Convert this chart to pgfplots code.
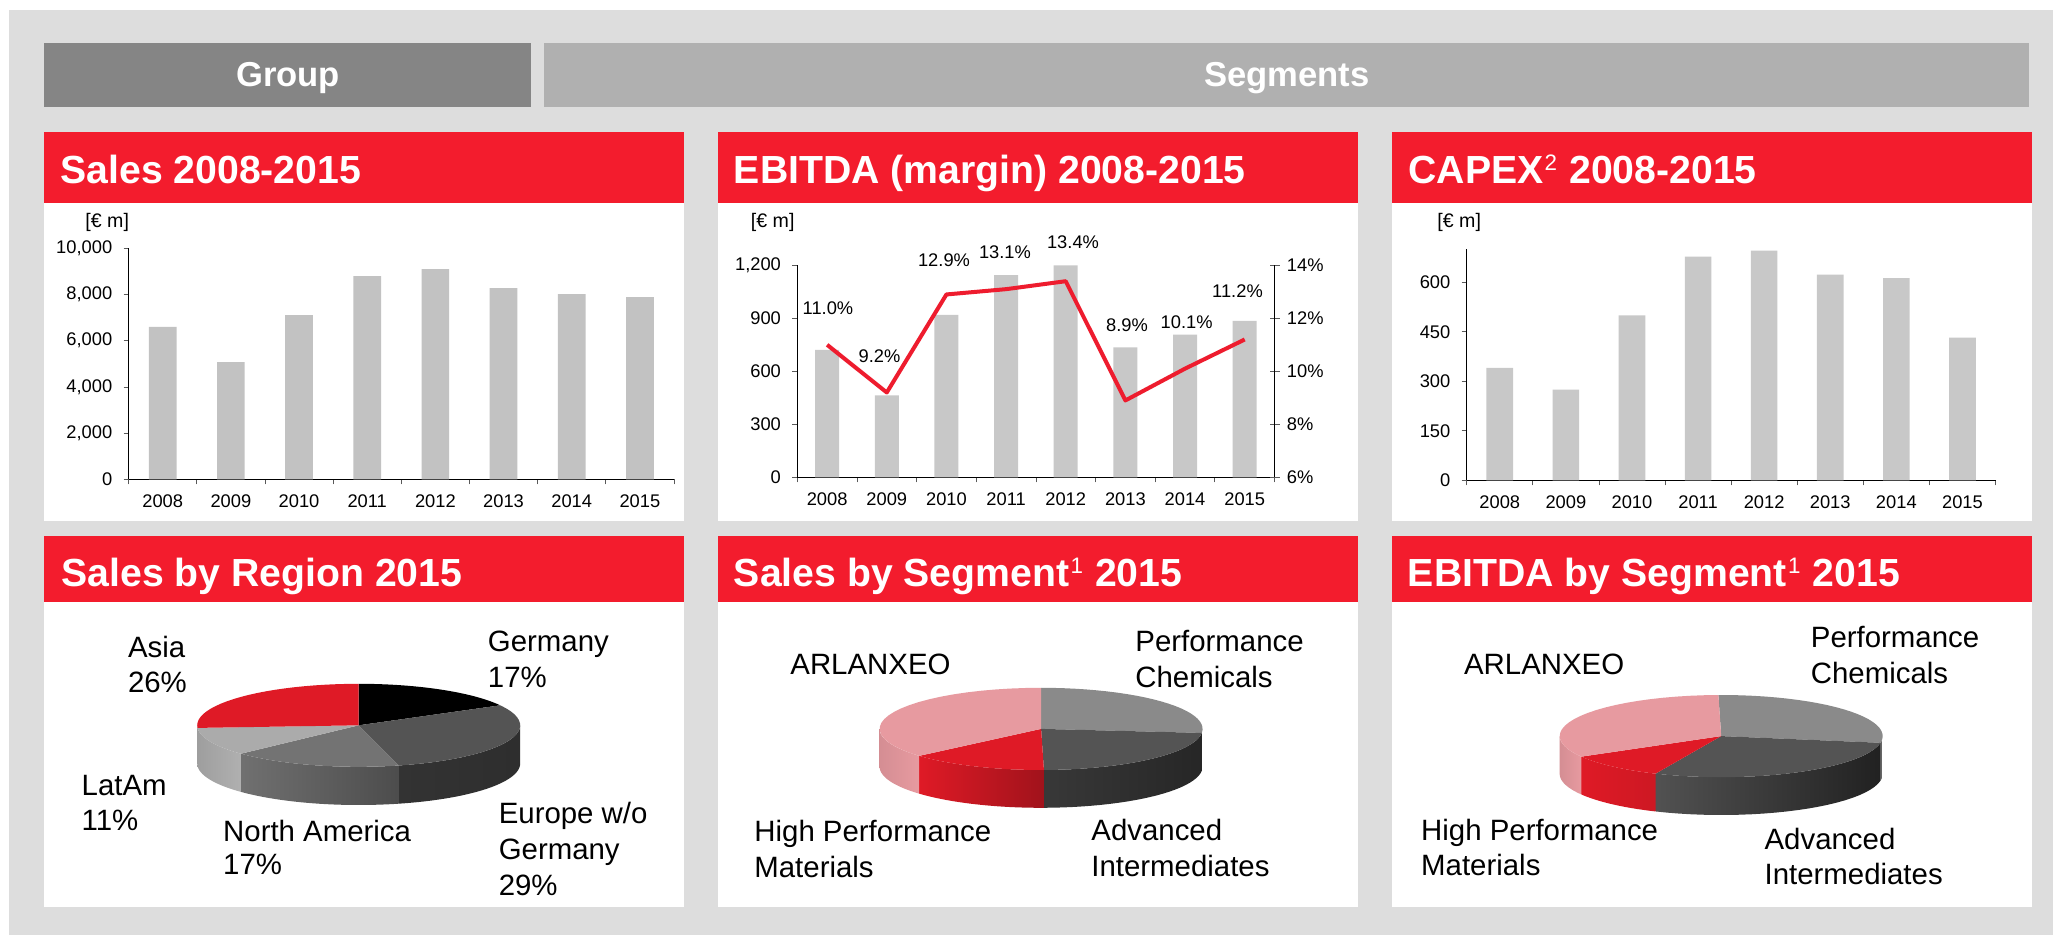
\documentclass[border=0pt]{standalone}
\usepackage{pgfplots}
\pgfplotsset{compat=1.18}
\usepackage{fontspec}
\setmainfont{Liberation Sans}

\definecolor{bggray}{HTML}{DDDDDD}
\definecolor{grpgray}{HTML}{858585}
\definecolor{seggray}{HTML}{B0B0B0}
\definecolor{hdrred}{HTML}{F31C2D}
\definecolor{linered}{HTML}{EE1C2E}
\definecolor{barA}{HTML}{C2C2C2}
\definecolor{barB}{HTML}{C8C8C8}
\definecolor{pieRed}{HTML}{DF1A26}
\definecolor{piePink}{HTML}{E79AA0}

% 1 px of the reference = 0.5pt
\newcommand{\tickfont}{\fontsize{9.15pt}{11pt}\selectfont}
\newcommand{\unitfont}{\fontsize{9.8pt}{11pt}\selectfont}
\newcommand{\bandfont}{\fontsize{17.3pt}{20pt}\selectfont\bfseries}
\newcommand{\titlefont}{\fontsize{19.6pt}{23pt}\selectfont\bfseries}
\newcommand{\piefont}{\fontsize{14.7pt}{17pt}\selectfont}
\newcommand{\note}[1]{\hspace{0.6pt}\raisebox{6.7pt}{\fontsize{11.2pt}{13pt}\selectfont\normalfont #1}\hspace{0.6pt}}

\pgfplotsset{
  panel/.style={
    scale only axis,
    anchor=south west,
    axis lines=left,
    axis line style={-,black,line width=0.6pt},
    tick align=outside,
    major tick length=2.5pt,
    tick style={draw=black!65,line width=0.4pt},
    xmin=0,xmax=8,
    xtick={0,...,8},
    xticklabels={},
    extra x ticks={0.5,1.5,2.5,3.5,4.5,5.5,6.5,7.5},
    extra x tick labels={2008,2009,2010,2011,2012,2013,2014,2015},
    extra x tick style={major tick length=0pt,tick style={draw=none}},
    ymin=0,
    tick label style={font=\tickfont},
    /pgf/number format/assume math mode=true,
    /pgf/number format/1000 sep={,},
    xticklabel style={inner sep=0pt,yshift=-7.5pt},
    yticklabel style={inner sep=0pt,xshift=-5.5pt},
    scaled y ticks=false,
    ybar,
    clip=false,
  },
  piebox/.style={
    scale only axis,
    anchor=south west,
    hide axis,
    clip=false,
    xmin=-1,xmax=1,
    ymin=-1.92,ymax=1,
    width=161.5pt,
  },
}

% arc points on the unit circle, appended to \pts (from, to, y offset)
\newcommand{\arcpts}[3]{%
  \pgfmathsetmacro\arcstep{(#2-(#1))/24}%
  \foreach \i in {0,...,24}{%
    \pgfmathsetmacro\arca{#1+\i*\arcstep}%
    \pgfmathsetmacro\ptx{cos(\arca)}%
    \pgfmathsetmacro\pty{sin(\arca)+(#3)}%
    \xdef\pts{\pts (\ptx,\pty)}%
  }%
}
% top face of a slice: from, to, style
\newcommand{\slicetop}[3]{%
  \gdef\pts{(0,0)}\arcpts{#1}{#2}{0}%
  \edef\tmp{\noexpand\addplot[draw=none,#3] coordinates {\pts} -- cycle;}\tmp
}
% outer wall of a slice: from, to, left, middle and right colour
\newcommand{\slicewall}[5]{%
  \gdef\pts{}\arcpts{#1}{#2}{0}\arcpts{#2}{#1}{-0.92}%
  \edef\tmp{\noexpand\addplot[draw=none,left color=#3,middle color=#4,right color=#5] coordinates {\pts} -- cycle;}\tmp
}

\begin{document}
\begin{tikzpicture}[x=0.5pt,y=-0.5pt]
\fill[white] (0,0) rectangle (2053,935);
\fill[bggray] (9,10) rectangle (2053,935);
\fill[grpgray] (44,43) rectangle (531,107);
\fill[seggray] (544,43) rectangle (2029,107);
\foreach \xa/\xb in {44/684,718/1358,1392/2032}{
  \fill[white] (\xa,132) rectangle (\xb,521);
  \fill[hdrred] (\xa,132) rectangle (\xb,203);
  \fill[white] (\xa,536) rectangle (\xb,907);
  \fill[hdrred] (\xa,536) rectangle (\xb,602);
}
\node[white,font=\bandfont,anchor=base] at (288,87) {Group};
\node[white,font=\bandfont,anchor=base] at (1287,87) {Segments};
\begin{scope}[every node/.style={white,font=\titlefont,anchor=base west,inner sep=0pt}]
\node at (60,183.5) {Sales 2008-2015};
\node at (733.5,183.5) {EBITDA (margin) 2008-2015};
\node at (1408,183.5) {CAPEX\note{2} 2008-2015};
\node at (61,586.5) {Sales by Region 2015};
\node at (733.5,586.5) {Sales by Segment\note{1} 2015};
\node at (1407.5,586.5) {EBITDA by Segment\note{1} 2015};
\end{scope}
\begin{scope}[every node/.style={font=\unitfont,anchor=base west,inner sep=0pt}]
\node at (85,228) {[€ m]};
\node at (750.5,227.5) {[€ m]};
\node at (1437,227.5) {[€ m]};
\end{scope}

% Sales
\begin{axis}[panel,at={(64.3pt,-239.7pt)},width=272.7pt,height=115.6pt,
  ymax=10000,ytick={0,2000,...,10000},bar width=13.85pt]
\addplot[fill=barA,draw=none] coordinates {(0.5,6594) (1.5,5073) (2.5,7105) (3.5,8787) (4.5,9094) (5.5,8275) (6.5,8012) (7.5,7880)};
\end{axis}

% EBITDA
\begin{axis}[panel,at={(398.65pt,-238.65pt)},width=238.6pt,height=106pt,
  ymax=1200,ytick={0,300,...,1200},bar width=12pt]
\addplot[fill=barB,draw=none] coordinates {(0.5,721) (1.5,464) (2.5,919) (3.5,1145) (4.5,1200) (5.5,736) (6.5,807) (7.5,885)};
\end{axis}
\begin{axis}[scale only axis,anchor=south west,at={(398.65pt,-238.65pt)},width=238.6pt,height=106pt,
  axis x line=none,axis y line=right,axis line style={-,black,line width=0.5pt},
  xmin=0,xmax=8,ymin=6,ymax=14,
  ytick={6,8,10,12,14},yticklabels={6\%,8\%,10\%,12\%,14\%},
  tick align=center,major tick length=5pt,tick style={draw=black!65,line width=0.4pt},
  tick label style={font=\tickfont},
  yticklabel style={inner sep=0pt,xshift=3.5pt},
  clip=false]
\addplot[linered,line width=2pt,line join=round,no marks] coordinates {(0.5,11.0) (1.5,9.2) (2.5,12.9) (3.5,13.1) (4.5,13.4) (5.5,8.9) (6.5,10.1) (7.5,11.2)};
\end{axis}
\begin{scope}[every node/.style={font=\tickfont,inner sep=0pt}]
\node at (828,308) {11.0\%};
\node at (879.5,356.7) {9.2\%};
\node at (944,260) {12.9\%};
\node at (1005,252.7) {13.1\%};
\node at (1073,242.7) {13.4\%};
\node at (1127,325.7) {8.9\%};
\node at (1186.6,322) {10.1\%};
\node at (1237.5,291) {11.2\%};
\end{scope}

% CAPEX
\begin{axis}[panel,at={(733.35pt,-240.15pt)},width=264.4pt,height=115.5pt,
  ymax=700,ytick={0,150,...,600},bar width=13.3pt]
\addplot[fill=barB,draw=none] coordinates {(0.5,341) (1.5,275) (2.5,500) (3.5,678) (4.5,696) (5.5,623) (6.5,613) (7.5,432)};
\end{axis}

% Sales by Region: 17, 29, 17, 11, 26 percent, clockwise from the top
\begin{axis}[piebox,at={(98.6pt,-402.5pt)},height=60.6pt]
\slicewall{0}{-75.6}{black!80}{black!88}{black!82}
\slicewall{-75.6}{-136.8}{black!56}{black!63}{black!70}
\slicewall{-136.8}{-180}{black!38}{black!34}{black!31}
\slicetop{90}{28.8}{fill=black}
\slicetop{28.8}{-75.6}{fill=black!67}
\slicetop{-75.6}{-136.8}{fill=black!55}
\slicetop{-136.8}{-176.4}{fill=black!33}
\slicetop{-176.4}{-270}{fill=pieRed}
\end{axis}

% Sales by Segment
\begin{axis}[piebox,at={(439.8pt,-403.9pt)},height=60pt]
\slicewall{0}{-5.6}{black!60}{black!60}{black!60}
\slicewall{-5.6}{-89}{black!78}{black!87}{black!85}
\slicewall{-89}{-139}{pieRed}{pieRed!88!black}{pieRed!72!black}
\slicewall{-139}{-180}{piePink!92!black}{piePink!96!black}{piePink}
\slicetop{90}{-5.6}{fill=black!46}
\slicetop{-5.6}{-89}{fill=black!67}
\slicetop{-89}{-139}{fill=pieRed}
\slicetop{-139}{-270}{fill=piePink}
\end{axis}

% EBITDA by Segment
\begin{axis}[piebox,at={(779.85pt,-407.5pt)},height=60pt]
\slicewall{0}{-9.4}{black!60}{black!60}{black!60}
\slicewall{-9.4}{-114}{black!68}{black!78}{black!87}
\slicewall{-114}{-150}{pieRed}{pieRed!96!black}{pieRed!92!black}
\slicewall{-150}{-180}{piePink!92!black}{piePink!96!black}{piePink}
\slicetop{91}{-9.4}{fill=black!46}
\slicetop{-9.4}{-114}{fill=black!67}
\slicetop{-114}{-150}{fill=pieRed}
\slicetop{-150}{-269}{fill=piePink}
\end{axis}

\begin{scope}[every node/.style={font=\piefont,anchor=base west,inner sep=0pt}]
\node at (127.6,658) {Asia};
\node at (127.6,692.7) {26\%};
\node at (487.5,651.7) {Germany};
\node at (487.5,687.7) {17\%};
\node at (81.3,795) {LatAm};
\node at (81.3,830.7) {11\%};
\node at (222.8,841.7) {North America};
\node at (222.8,874) {17\%};
\node at (498.4,823.3) {Europe w/o};
\node at (498.4,859) {Germany};
\node at (498.4,895) {29\%};
\node at (790,675) {ARLANXEO};
\node at (1135,651.7) {Performance};
\node at (1135,687.7) {Chemicals};
\node at (754,841.7) {High Performance};
\node at (754,877.7) {Materials};
\node at (1091,840.7) {Advanced};
\node at (1091,876.7) {Intermediates};
\node at (1463.7,675) {ARLANXEO};
\node at (1810.5,647.7) {Performance};
\node at (1810.5,683.3) {Chemicals};
\node at (1420.8,840) {High Performance};
\node at (1420.8,875) {Materials};
\node at (1764.2,849) {Advanced};
\node at (1764.2,884) {Intermediates};
\end{scope}
\end{tikzpicture}
\end{document}
